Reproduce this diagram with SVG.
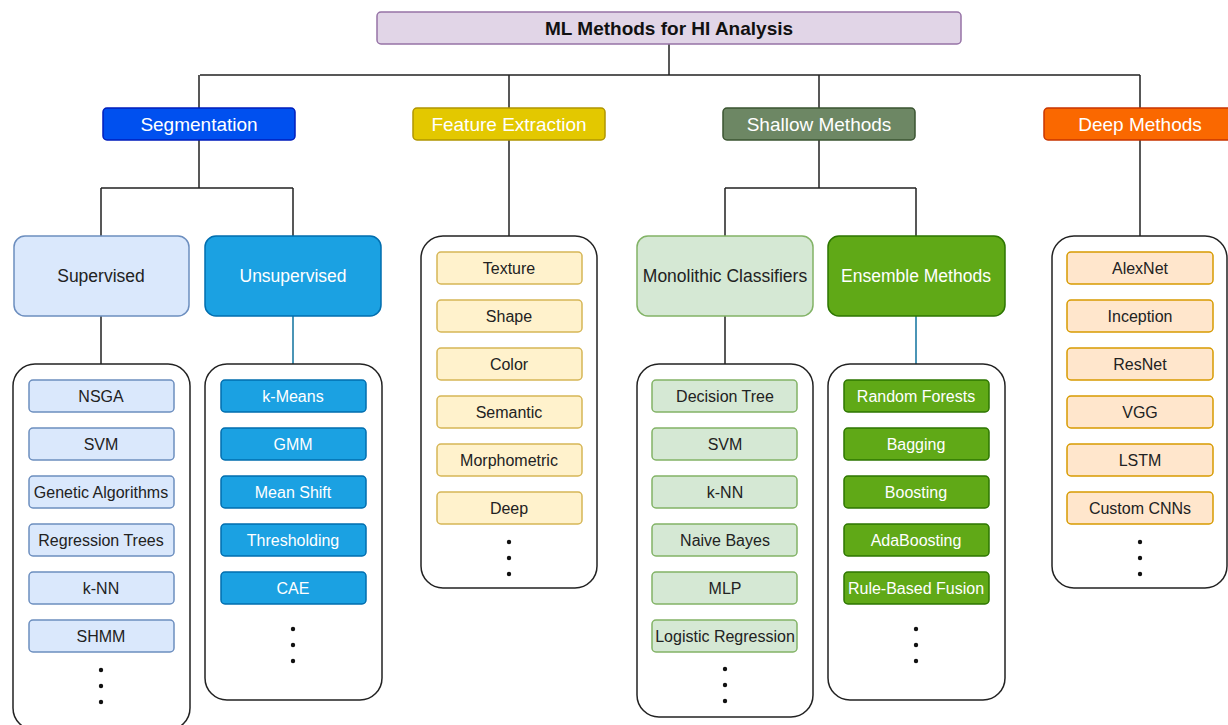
<svg xmlns="http://www.w3.org/2000/svg" width="1228" height="725" viewBox="0 0 1228 725">
<style>
text{font-family:"Liberation Sans",Arial,sans-serif;text-anchor:middle;dominant-baseline:central}
.title{font-size:19px;font-weight:bold;fill:#111}
.cat{font-size:19px;fill:#fff}
.sub{font-size:17.5px}
.it{font-size:16px}
.dk{fill:#222}
.wt{fill:#fff}
.ln{stroke:#222;stroke-width:1.5;fill:none}
.lnb{stroke:#10739e;stroke-width:1.5;fill:none}
.cont{fill:#fff;stroke:#222;stroke-width:1.5}
.dot{fill:#111}
.sv{fill:#dae8fc;stroke:#6c8ebf;stroke-width:1.5}
.us{fill:#1ba1e2;stroke:#006eaf;stroke-width:1.5}
.fe{fill:#fff2cc;stroke:#d6b656;stroke-width:1.5}
.mc{fill:#d5e8d4;stroke:#82b366;stroke-width:1.5}
.en{fill:#60a917;stroke:#2d7600;stroke-width:1.5}
.dp{fill:#ffe6cc;stroke:#d79b00;stroke-width:1.5}
</style>
<rect width="1228" height="725" fill="#fff"/>
<g id="connectors">
<path class="ln" d="M669 44V75M200 75H1140M199 75V108M509 75V108M819 75V108M1140 75V108"/>
<path class="ln" d="M199 140V188M101 188H293M101 188V236M293 188V236"/>
<path class="ln" d="M509 140V236"/>
<path class="ln" d="M819 140V188M725 188H916M725 188V236M916 188V236"/>
<path class="ln" d="M1140 140V236"/>
<path class="ln" d="M101 316V364M725 316V364"/>
<path class="lnb" d="M293 316V364M916 316V364"/>
</g>
<g id="title"><rect x="377" y="12" width="584" height="32" rx="4" fill="#e1d5e7" stroke="#9673a6" stroke-width="1.5"/><text class="title" x="669" y="28">ML Methods for HI Analysis</text></g>
<g id="segmentation"><rect x="103" y="108" width="192" height="32" rx="4" fill="#0050ef" stroke="#001dbc" stroke-width="1.5"/><text class="cat" x="199" y="124">Segmentation</text></g>
<g id="feature-extraction"><rect x="413" y="108" width="192" height="32" rx="4" fill="#e3c800" stroke="#b09500" stroke-width="1.5"/><text class="cat" x="509" y="124">Feature Extraction</text></g>
<g id="shallow-methods"><rect x="723" y="108" width="192" height="32" rx="4" fill="#6d8764" stroke="#3a5431" stroke-width="1.5"/><text class="cat" x="819" y="124">Shallow Methods</text></g>
<g id="deep-methods"><rect x="1044" y="108" width="192" height="32" rx="4" fill="#fa6800" stroke="#c73500" stroke-width="1.5"/><text class="cat" x="1140" y="124">Deep Methods</text></g>
<g id="supervised"><rect x="14" y="236" width="175" height="80" rx="11" class="sv"/><text class="sub dk" x="101" y="276">Supervised</text></g>
<g id="unsupervised"><rect x="205" y="236" width="176" height="80" rx="11" class="us"/><text class="sub wt" x="293" y="276">Unsupervised</text></g>
<g id="monolithic"><rect x="637" y="236" width="176" height="80" rx="11" class="mc"/><text class="sub dk" x="725" y="276">Monolithic Classifiers</text></g>
<g id="ensemble"><rect x="828" y="236" width="177" height="80" rx="11" class="en"/><text class="sub wt" x="916" y="276">Ensemble Methods</text></g>
<g id="supervised-list">
<rect class="cont" x="13" y="364" width="177" height="366" rx="22"/>
<rect class="sv" x="29" y="380" width="145" height="32" rx="4"/><text class="it dk" x="101" y="396">NSGA</text>
<rect class="sv" x="29" y="428" width="145" height="32" rx="4"/><text class="it dk" x="101" y="444">SVM</text>
<rect class="sv" x="29" y="476" width="145" height="32" rx="4"/><text class="it dk" x="101" y="492">Genetic Algorithms</text>
<rect class="sv" x="29" y="524" width="145" height="32" rx="4"/><text class="it dk" x="101" y="540">Regression Trees</text>
<rect class="sv" x="29" y="572" width="145" height="32" rx="4"/><text class="it dk" x="101" y="588">k-NN</text>
<rect class="sv" x="29" y="620" width="145" height="32" rx="4"/><text class="it dk" x="101" y="636">SHMM</text>
<circle class="dot" cx="101" cy="670" r="2.2"/><circle class="dot" cx="101" cy="686" r="2.2"/><circle class="dot" cx="101" cy="702" r="2.2"/>
</g>
<g id="unsupervised-list">
<rect class="cont" x="205" y="364" width="177" height="336" rx="22"/>
<rect class="us" x="221" y="380" width="145" height="32" rx="4"/><text class="it wt" x="293" y="396">k-Means</text>
<rect class="us" x="221" y="428" width="145" height="32" rx="4"/><text class="it wt" x="293" y="444">GMM</text>
<rect class="us" x="221" y="476" width="145" height="32" rx="4"/><text class="it wt" x="293" y="492">Mean Shift</text>
<rect class="us" x="221" y="524" width="145" height="32" rx="4"/><text class="it wt" x="293" y="540">Thresholding</text>
<rect class="us" x="221" y="572" width="145" height="32" rx="4"/><text class="it wt" x="293" y="588">CAE</text>
<circle class="dot" cx="293" cy="629" r="2.2"/><circle class="dot" cx="293" cy="645" r="2.2"/><circle class="dot" cx="293" cy="661" r="2.2"/>
</g>
<g id="feature-list">
<rect class="cont" x="421" y="236" width="176" height="352" rx="22"/>
<rect class="fe" x="437" y="252" width="145" height="32" rx="4"/><text class="it dk" x="509" y="268">Texture</text>
<rect class="fe" x="437" y="300" width="145" height="32" rx="4"/><text class="it dk" x="509" y="316">Shape</text>
<rect class="fe" x="437" y="348" width="145" height="32" rx="4"/><text class="it dk" x="509" y="364">Color</text>
<rect class="fe" x="437" y="396" width="145" height="32" rx="4"/><text class="it dk" x="509" y="412">Semantic</text>
<rect class="fe" x="437" y="444" width="145" height="32" rx="4"/><text class="it dk" x="509" y="460">Morphometric</text>
<rect class="fe" x="437" y="492" width="145" height="32" rx="4"/><text class="it dk" x="509" y="508">Deep</text>
<circle class="dot" cx="509" cy="542" r="2.2"/><circle class="dot" cx="509" cy="558" r="2.2"/><circle class="dot" cx="509" cy="574" r="2.2"/>
</g>
<g id="monolithic-list">
<rect class="cont" x="637" y="364" width="176" height="353" rx="22"/>
<rect class="mc" x="652" y="380" width="145" height="32" rx="4"/><text class="it dk" x="725" y="396">Decision Tree</text>
<rect class="mc" x="652" y="428" width="145" height="32" rx="4"/><text class="it dk" x="725" y="444">SVM</text>
<rect class="mc" x="652" y="476" width="145" height="32" rx="4"/><text class="it dk" x="725" y="492">k-NN</text>
<rect class="mc" x="652" y="524" width="145" height="32" rx="4"/><text class="it dk" x="725" y="540">Naive Bayes</text>
<rect class="mc" x="652" y="572" width="145" height="32" rx="4"/><text class="it dk" x="725" y="588">MLP</text>
<rect class="mc" x="652" y="620" width="145" height="32" rx="4"/><text class="it dk" x="725" y="636">Logistic Regression</text>
<circle class="dot" cx="725" cy="669" r="2.2"/><circle class="dot" cx="725" cy="685" r="2.2"/><circle class="dot" cx="725" cy="701" r="2.2"/>
</g>
<g id="ensemble-list">
<rect class="cont" x="828" y="364" width="177" height="336" rx="22"/>
<rect class="en" x="844" y="380" width="145" height="32" rx="4"/><text class="it wt" x="916" y="396">Random Forests</text>
<rect class="en" x="844" y="428" width="145" height="32" rx="4"/><text class="it wt" x="916" y="444">Bagging</text>
<rect class="en" x="844" y="476" width="145" height="32" rx="4"/><text class="it wt" x="916" y="492">Boosting</text>
<rect class="en" x="844" y="524" width="145" height="32" rx="4"/><text class="it wt" x="916" y="540">AdaBoosting</text>
<rect class="en" x="844" y="572" width="145" height="32" rx="4"/><text class="it wt" x="916" y="588">Rule-Based Fusion</text>
<circle class="dot" cx="916" cy="629" r="2.2"/><circle class="dot" cx="916" cy="645" r="2.2"/><circle class="dot" cx="916" cy="661" r="2.2"/>
</g>
<g id="deep-list">
<rect class="cont" x="1052" y="236" width="175" height="352" rx="22"/>
<rect class="dp" x="1067" y="252" width="146" height="32" rx="4"/><text class="it dk" x="1140" y="268">AlexNet</text>
<rect class="dp" x="1067" y="300" width="146" height="32" rx="4"/><text class="it dk" x="1140" y="316">Inception</text>
<rect class="dp" x="1067" y="348" width="146" height="32" rx="4"/><text class="it dk" x="1140" y="364">ResNet</text>
<rect class="dp" x="1067" y="396" width="146" height="32" rx="4"/><text class="it dk" x="1140" y="412">VGG</text>
<rect class="dp" x="1067" y="444" width="146" height="32" rx="4"/><text class="it dk" x="1140" y="460">LSTM</text>
<rect class="dp" x="1067" y="492" width="146" height="32" rx="4"/><text class="it dk" x="1140" y="508">Custom CNNs</text>
<circle class="dot" cx="1140" cy="542" r="2.2"/><circle class="dot" cx="1140" cy="558" r="2.2"/><circle class="dot" cx="1140" cy="574" r="2.2"/>
</g>
</svg>
